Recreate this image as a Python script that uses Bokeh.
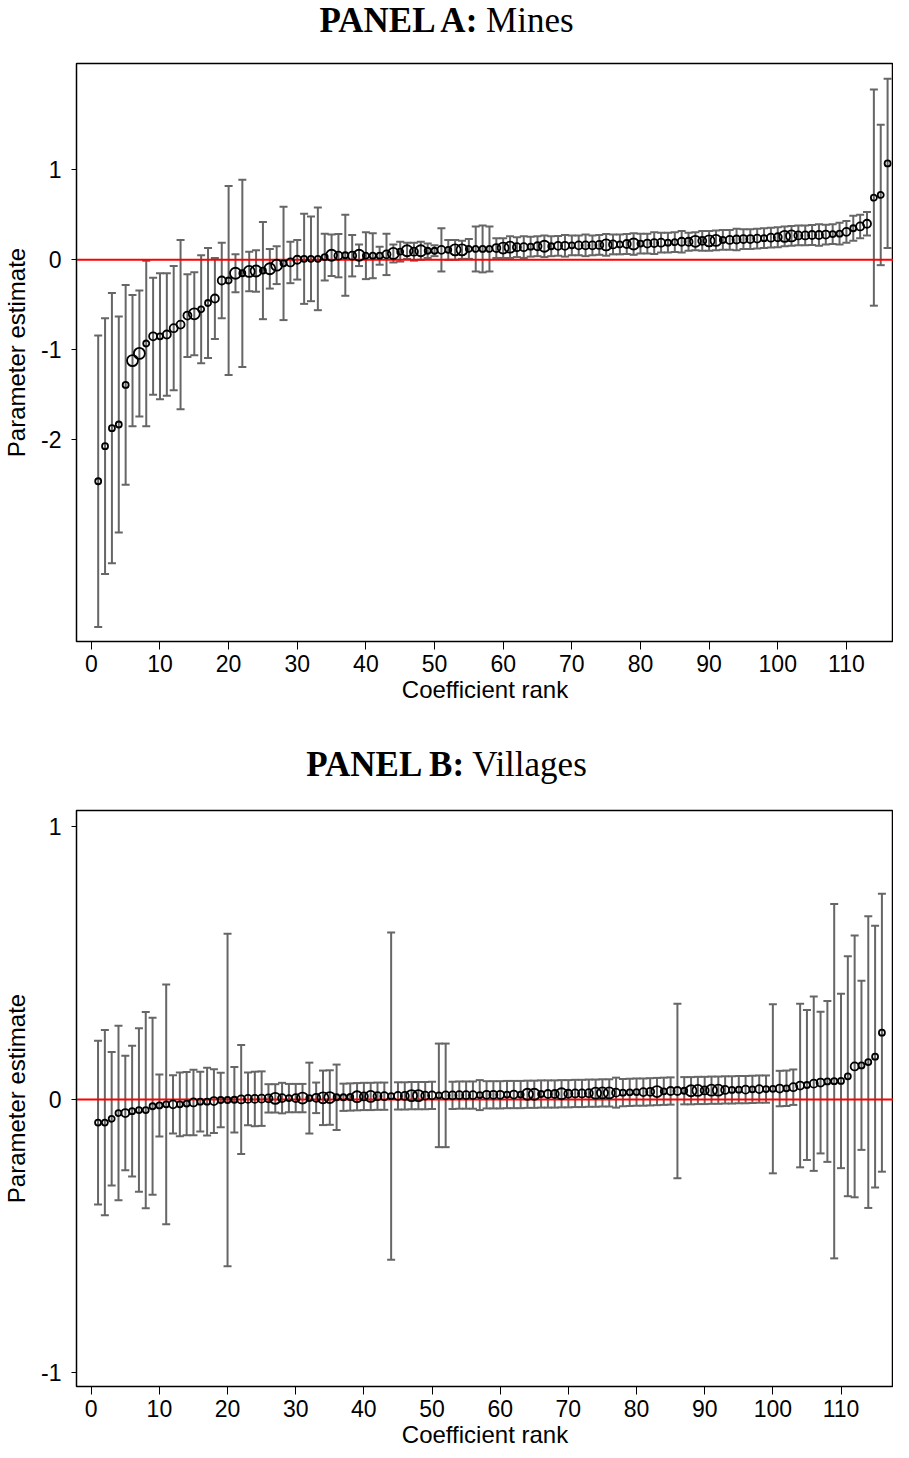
from bokeh.plotting import figure
from bokeh.models import ColumnDataSource, Whisker, TeeHead, Span, Div, FixedTicker, Range1d
from bokeh.layouts import column
from bokeh.embed import file_html
from bokeh.resources import INLINE

rank = list(range(1, 117))

# ---------------- Panel A: Mines ----------------
a_est = [-2.46, -2.07, -1.87, -1.83, -1.39, -1.12, -1.04, -0.93, -0.85, -0.85,
         -0.83, -0.76, -0.72, -0.62, -0.60, -0.55, -0.48, -0.43, -0.23, -0.23,
         -0.15, -0.15, -0.13, -0.125, -0.12, -0.10, -0.06, -0.04, -0.03, 0.00,
         0.01, 0.01, 0.01, 0.03, 0.05, 0.045, 0.05, 0.045, 0.05, 0.045,
         0.045, 0.045, 0.06, 0.07, 0.09, 0.10, 0.09, 0.10, 0.10, 0.10,
         0.11, 0.11, 0.11, 0.11, 0.12, 0.12, 0.12, 0.12, 0.13, 0.13,
         0.14, 0.14, 0.14, 0.145, 0.15, 0.15, 0.15, 0.155, 0.155, 0.16,
         0.16, 0.16, 0.16, 0.165, 0.165, 0.17, 0.17, 0.175, 0.175, 0.18,
         0.18, 0.185, 0.19, 0.19, 0.195, 0.20, 0.20, 0.205, 0.21, 0.21,
         0.215, 0.22, 0.22, 0.225, 0.23, 0.23, 0.235, 0.24, 0.245, 0.25,
         0.26, 0.265, 0.27, 0.27, 0.275, 0.275, 0.28, 0.285, 0.29, 0.31,
         0.35, 0.37, 0.40, 0.69, 0.72, 1.07]
a_hw = [1.62, 1.42, 1.50, 1.20, 1.11, 0.73, 0.70, 0.92, 0.65, 0.70,
        0.68, 0.69, 0.94, 0.46, 0.46, 0.60, 0.61, 0.45, 0.42, 1.05,
        0.21, 1.04, 0.22, 0.23, 0.54, 0.22, 0.21, 0.63, 0.23, 0.22,
        0.50, 0.47, 0.57, 0.26, 0.23, 0.24, 0.45, 0.23, 0.12, 0.26,
        0.25, 0.10, 0.23, 0.10, 0.11, 0.09, 0.10, 0.10, 0.08, 0.06,
        0.24, 0.11, 0.11, 0.10, 0.11, 0.25, 0.26, 0.25, 0.11, 0.11,
        0.12, 0.11, 0.12, 0.11, 0.11, 0.12, 0.11, 0.11, 0.12, 0.11,
        0.11, 0.12, 0.11, 0.11, 0.12, 0.11, 0.11, 0.11, 0.12, 0.11,
        0.11, 0.12, 0.11, 0.11, 0.11, 0.12, 0.10, 0.10, 0.11, 0.11,
        0.11, 0.11, 0.11, 0.12, 0.11, 0.11, 0.11, 0.11, 0.11, 0.11,
        0.11, 0.11, 0.11, 0.11, 0.11, 0.12, 0.11, 0.11, 0.12, 0.12,
        0.14, 0.13, 0.13, 1.20, 0.78, 0.94]
a_wt = [1, 1, 1, 1, 1, 3, 3, 1, 2, 1,
        2, 2, 2, 2, 3, 1, 1, 2, 2, 1,
        3, 1, 3, 3, 1, 3, 3, 1, 2, 2,
        1, 1, 1, 1, 3, 2, 1, 2, 3, 1,
        1, 1, 2, 3, 1, 3, 2, 3, 1, 1,
        2, 1, 3, 3, 1, 1, 1, 1, 2, 3,
        3, 2, 2, 1, 2, 3, 1, 2, 2, 1,
        2, 2, 2, 2, 3, 2, 1, 2, 3, 1,
        2, 2, 2, 1, 1, 2, 2, 3, 2, 3,
        3, 1, 2, 2, 2, 2, 2, 1, 2, 2,
        3, 3, 2, 2, 2, 2, 2, 1, 1, 2,
        1, 2, 2, 1, 1, 1]

# ---------------- Panel B: Villages ----------------
b_est = [-0.085, -0.085, -0.071, -0.050, -0.050, -0.043, -0.039, -0.039, -0.025, -0.022,
         -0.018, -0.018, -0.018, -0.015, -0.011, -0.008, -0.008, -0.006, -0.002, -0.002,
         -0.001, 0.000, 0.002, 0.002, 0.003, 0.004, 0.004, 0.005, 0.005, 0.005,
         0.005, 0.005, 0.006, 0.006, 0.007, 0.008, 0.008, 0.009, 0.010, 0.011,
         0.011, 0.012, 0.012, 0.012, 0.013, 0.013, 0.014, 0.014, 0.014, 0.015,
         0.015, 0.015, 0.015, 0.016, 0.016, 0.016, 0.016, 0.017, 0.017, 0.017,
         0.018, 0.018, 0.018, 0.019, 0.019, 0.020, 0.020, 0.020, 0.021, 0.021,
         0.022, 0.022, 0.023, 0.023, 0.024, 0.024, 0.025, 0.025, 0.026, 0.027,
         0.027, 0.028, 0.029, 0.030, 0.031, 0.031, 0.032, 0.032, 0.033, 0.033,
         0.034, 0.034, 0.035, 0.035, 0.036, 0.036, 0.037, 0.038, 0.038, 0.039,
         0.040, 0.041, 0.045, 0.051, 0.053, 0.058, 0.062, 0.066, 0.067, 0.068,
         0.085, 0.121, 0.125, 0.137, 0.157, 0.245]
b_hw = [0.30, 0.34, 0.245, 0.32, 0.21, 0.24, 0.30, 0.36, 0.325, 0.114,
        0.44, 0.107, 0.117, 0.116, 0.12, 0.11, 0.124, 0.117, 0.10, 0.61,
        0.12, 0.20, 0.097, 0.10, 0.10, 0.052, 0.052, 0.056, 0.052, 0.052,
        0.052, 0.13, 0.056, 0.10, 0.10, 0.12, 0.05, 0.05, 0.05, 0.05,
        0.05, 0.05, 0.05, 0.60, 0.05, 0.05, 0.05, 0.05, 0.05, 0.05,
        0.19, 0.19, 0.05, 0.05, 0.05, 0.05, 0.055, 0.05, 0.05, 0.05,
        0.05, 0.05, 0.05, 0.05, 0.05, 0.05, 0.05, 0.05, 0.05, 0.05,
        0.05, 0.05, 0.05, 0.05, 0.05, 0.05, 0.055, 0.05, 0.05, 0.05,
        0.05, 0.05, 0.05, 0.05, 0.05, 0.32, 0.05, 0.05, 0.05, 0.05,
        0.05, 0.05, 0.05, 0.05, 0.05, 0.05, 0.05, 0.05, 0.05, 0.31,
        0.065, 0.065, 0.065, 0.30, 0.275, 0.32, 0.26, 0.295, 0.65, 0.32,
        0.44, 0.48, 0.31, 0.535, 0.48, 0.51]
b_wt = [1, 1, 1, 1, 2, 1, 1, 1, 1, 1,
        1, 2, 1, 1, 2, 1, 1, 2, 1, 1,
        1, 2, 2, 2, 2, 2, 3, 2, 1, 2,
        3, 1, 2, 3, 3, 1, 1, 1, 3, 2,
        3, 2, 2, 1, 2, 2, 3, 3, 2, 2,
        1, 2, 2, 2, 2, 2, 1, 2, 2, 2,
        1, 2, 1, 3, 3, 1, 2, 2, 3, 2,
        2, 2, 2, 3, 3, 3, 2, 1, 1, 1,
        2, 2, 3, 1, 2, 2, 1, 3, 3, 2,
        3, 3, 2, 1, 1, 2, 1, 2, 1, 1,
        2, 1, 2, 2, 1, 2, 2, 1, 1, 1,
        1, 2, 1, 1, 1, 1]

x_ticks = list(range(0, 111, 10))
a_yticks = [-2, -1, 0, 1]
b_yticks = [-1, 0, 1]

MARKER_SIZE = {1: 6, 2: 8, 3: 11}
BAR_COLOR = "#666666"
SANS = "Liberation Sans"
SERIF = "Liberation Serif"
W = 893


def make_panel(est, hw, wt, yticks, xrange, yrange, height, borders):
    lo = [e - h for e, h in zip(est, hw)]
    hi = [e + h for e, h in zip(est, hw)]
    sz = [MARKER_SIZE[w] for w in wt]
    src = ColumnDataSource(dict(x=rank, y=est, lo=lo, hi=hi, sz=sz))
    p = figure(width=W, height=height, output_backend="svg", toolbar_location=None,
               x_range=Range1d(*xrange), y_range=Range1d(*yrange),
               min_border_left=borders[0], min_border_right=borders[1],
               min_border_top=borders[2], min_border_bottom=borders[3])
    p.xgrid.visible = False
    p.ygrid.visible = False
    p.outline_line_color = "black"
    p.outline_line_width = 1.5
    p.background_fill_color = "white"
    p.border_fill_color = "white"

    w = Whisker(source=src, base="x", lower="lo", upper="hi",
                line_color=BAR_COLOR, line_width=2, level="underlay",
                upper_head=TeeHead(size=8, line_color=BAR_COLOR, line_width=2),
                lower_head=TeeHead(size=8, line_color=BAR_COLOR, line_width=2))
    p.add_layout(w)
    p.add_layout(Span(location=0, dimension="width", line_color="#ff0000",
                      line_width=2, level="underlay"))
    p.scatter("x", "y", source=src, size="sz", marker="circle",
              fill_color=None, line_color="black", line_width=1.8)

    for ax in (p.xaxis[0], p.yaxis[0]):
        ax.axis_line_color = "black"
        ax.axis_line_width = 1
        ax.major_tick_line_color = "black"
        ax.major_tick_in = 0
        ax.minor_tick_line_color = None
        ax.major_label_text_font = SANS
        ax.major_label_text_font_size = "23px"
        ax.major_label_text_color = "black"
        ax.axis_label_text_font = SANS
        ax.axis_label_text_font_size = "24px"
        ax.axis_label_text_font_style = "normal"
        ax.axis_label_text_color = "black"

    p.xaxis.ticker = FixedTicker(ticks=x_ticks)
    p.xaxis.major_tick_out = 8
    p.xaxis.major_label_standoff = 5
    p.xaxis.axis_label = "Coefficient rank"
    p.xaxis.axis_label_standoff = 1

    p.yaxis.ticker = FixedTicker(ticks=yticks)
    p.yaxis.major_label_overrides = {t: str(t) for t in yticks}
    p.yaxis.major_label_orientation = "horizontal"
    p.yaxis.major_tick_out = 5
    p.yaxis.major_label_standoff = 10
    p.yaxis.axis_label = "Parameter estimate"
    p.yaxis.axis_label_standoff = 8
    return p


def title_div(bold, rest, height, line_height):
    return Div(text=f"<b>{bold}</b> {rest}", width=W, height=height,
               margin=(0, 0, 0, 0),
               styles={"font-family": SERIF, "font-size": "35px",
                       "text-align": "center", "width": f"{W}px",
                       "line-height": line_height, "color": "black"})


divA = title_div("PANEL A:", "Mines", 55, "42px")
pA = make_panel(a_est, a_hw, a_wt, a_yticks, (-2.16, 116.86), (-4.24, 2.18), 670, (67, 0, 8, 84))
divB = title_div("PANEL B:", "Villages", 73, "79px")
pB = make_panel(b_est, b_hw, b_wt, b_yticks, (-2.16, 117.7), (-1.053, 1.06), 652, (61, 0, 12, 60))

layout = column(divA, pA, divB, pB, spacing=0)
open("out.html", "w").write(file_html(layout, INLINE))
